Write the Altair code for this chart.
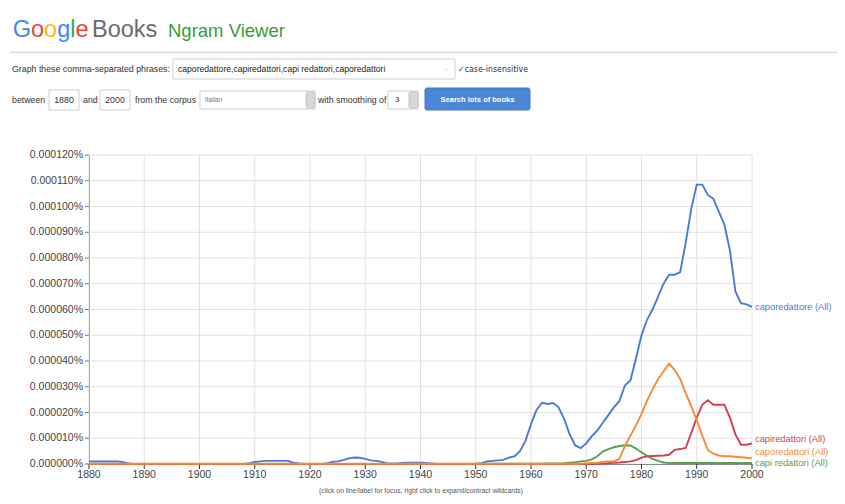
import altair as alt
import pandas as pd

# ---------------- data (values in units of 0.00001 %) ----------------
years = list(range(1880, 2001))

caporedattore = [
    0.1, 0.1, 0.1, 0.1, 0.1, 0.1, 0.08, 0.03, 0, 0,
    0, 0, 0, 0, 0, 0, 0, 0, 0, 0,
    0, 0, 0, 0, 0, 0, 0, 0, 0, 0.03,
    0.08, 0.1, 0.12, 0.12, 0.12, 0.12, 0.12, 0.05, 0.02, 0,
    0, 0, 0, 0.02, 0.08, 0.1, 0.15, 0.22, 0.25, 0.24,
    0.2, 0.14, 0.12, 0.08, 0.02, 0.02, 0.03, 0.05, 0.05, 0.05,
    0.05, 0.04, 0.02, 0, 0, 0, 0, 0, 0, 0,
    0, 0.03, 0.1, 0.12, 0.14, 0.16, 0.25, 0.3, 0.5, 0.9,
    1.55, 2.1, 2.38, 2.33, 2.37, 2.2, 1.75, 1.15, 0.72, 0.62,
    0.8, 1.08, 1.3, 1.6, 1.9, 2.2, 2.45, 3.05, 3.25, 4.1,
    5.0, 5.6, 6.0, 6.5, 7.0, 7.35, 7.35, 7.45, 8.6, 9.9,
    10.85, 10.85, 10.45, 10.3, 9.8, 9.3, 8.3, 6.7, 6.25, 6.2,
    6.1,
]

capiredattori = [0] * 90 + [
    0, 0, 0.01, 0.02, 0.03, 0.05, 0.06, 0.08, 0.1, 0.15,
    0.25, 0.3, 0.31, 0.32, 0.33, 0.36, 0.55, 0.58, 0.62, 1.2,
    1.8, 2.3, 2.48, 2.3, 2.3, 2.3, 1.8, 1.15, 0.75, 0.75,
    0.8,
]

caporedattori = [0.01] * 90 + [
    0.03, 0.04, 0.05, 0.08, 0.1, 0.1, 0.2, 0.7, 1.1, 1.5,
    1.95, 2.45, 2.9, 3.3, 3.6, 3.9, 3.65, 3.3, 2.75, 2.25,
    1.7, 1.1, 0.55, 0.4, 0.33, 0.3, 0.3, 0.28, 0.26, 0.24,
    0.22,
]

capi_redattori = [0] * 70 + [
    0.01, 0.01, 0.01, 0.01, 0.01, 0.01, 0.01, 0.01, 0.01, 0.01,
    0.01, 0.01, 0.01, 0.02, 0.02, 0.02, 0.03, 0.05, 0.07, 0.1,
    0.12, 0.18, 0.3, 0.48, 0.58, 0.65, 0.7, 0.73, 0.72, 0.6,
    0.45, 0.32, 0.2, 0.12, 0.06, 0.04, 0.04, 0.04, 0.04, 0.04,
    0.04, 0.04, 0.04, 0.04, 0.04, 0.04, 0.04, 0.04, 0.04, 0.04,
    0.04,
]

series_names = ["caporedattore (All)", "capi redattori (All)",
                "capiredattori (All)", "caporedattori (All)"]
series_values = [caporedattore, capi_redattori, capiredattori, caporedattori]
series_colors = ["#4a7bd4", "#5d9e52", "#d6404a", "#f28a3a"]
label_shift = [0, 0, -4, -6]

x_ticks = list(range(1880, 2001, 10))
x_tick_labels = [str(v) for v in x_ticks]
y_ticks = list(range(0, 13))
y_tick_labels = ["0.000000%", "0.000010%", "0.000020%", "0.000030%", "0.000040%",
                 "0.000050%", "0.000060%", "0.000070%", "0.000080%", "0.000090%",
                 "0.000100%", "0.000110%", "0.000120%"]

rows = []
for name, vals in zip(series_names, series_values):
    for yr, v in zip(years, vals):
        rows.append({"year": yr, "value": v, "series": name})
df = pd.DataFrame(rows)
xt_df = pd.DataFrame({"year": x_ticks, "label": x_tick_labels})
yt_df = pd.DataFrame({"value": y_ticks, "label": y_tick_labels})

FONT = "Liberation Sans"
W, H = 663, 309
GRID = "#e2e2e2"

x_scale = alt.Scale(domain=[1880, 2000], nice=False)
y_scale = alt.Scale(domain=[0, 12], nice=False)
x_enc = alt.X("year:Q", scale=x_scale,
              axis=alt.Axis(grid=False, labels=False, ticks=False, title=None,
                            domainColor="#333", domainWidth=1))
y_enc = alt.Y("value:Q", scale=y_scale,
              axis=alt.Axis(grid=False, labels=False, ticks=False, title=None,
                            domainColor="#777", domainWidth=1))

color_scale = alt.Scale(domain=series_names, range=series_colors)

grid_v = alt.Chart(xt_df).mark_rule(color=GRID, strokeWidth=1).encode(x=x_enc)
grid_h = alt.Chart(yt_df).mark_rule(color=GRID, strokeWidth=1).encode(y=y_enc)
ticks_x = alt.Chart(xt_df).mark_rule(color="#333", strokeWidth=1).encode(
    x=x_enc, y=alt.value(H), y2=alt.value(H + 5))
ticks_y = alt.Chart(yt_df).mark_rule(color="#777", strokeWidth=1).encode(
    y=y_enc, x=alt.value(-4), x2=alt.value(0))
labels_x = alt.Chart(xt_df).mark_text(
    align="center", baseline="top", fontSize=10.5, font=FONT, color="#444"
).encode(x=x_enc, y=alt.value(H + 6), text="label:N")
labels_y = alt.Chart(yt_df).mark_text(
    align="right", baseline="middle", fontSize=10.5, font=FONT, color="#444"
).encode(y=y_enc, x=alt.value(-6), text="label:N")

lines = alt.Chart(df).mark_line(strokeWidth=1.9, interpolate="linear").encode(
    x=x_enc, y=y_enc,
    color=alt.Color("series:N", scale=color_scale, legend=None),
    detail="series:N",
)

label_layers = []
for name, vals, shift in zip(series_names, series_values, label_shift):
    ldf = pd.DataFrame({"year": [years[-1]], "value": [vals[-1]], "series": [name]})
    label_layers.append(
        alt.Chart(ldf).mark_text(
            align="left", baseline="middle", dx=3, dy=shift, fontSize=9.3, font=FONT
        ).encode(
            x=x_enc, y=y_enc, text="series:N",
            color=alt.Color("series:N", scale=color_scale, legend=None),
        )
    )

one = alt.Data(values=[{"a": 1}])


def txt(s, x, y, size=9, color="#333", align="left", weight="normal", font=FONT,
        baseline="middle"):
    return alt.Chart(one).mark_text(
        text=s, align=align, baseline=baseline, fontSize=size, color=color,
        fontWeight=weight, font=font
    ).encode(x=alt.value(x), y=alt.value(y))


def box(x1, x2, y1, y2, fill="white", stroke="#cfcfcf", radius=0):
    return alt.Chart(one).mark_rect(
        fill=fill, stroke=stroke, strokeWidth=1, cornerRadius=radius
    ).encode(x=alt.value(x1), x2=alt.value(x2), y=alt.value(y1), y2=alt.value(y2))


deco = []
# Logo
gx = -76.3
gy = -117.7
glyphs = [("G", "#4285f4", 18.3), ("o", "#ea4335", 13.1), ("o", "#fbbc05", 13.1),
          ("g", "#4285f4", 13.1), ("l", "#34a853", 5.2), ("e", "#ea4335", 13.1)]
for ch, col, w in glyphs:
    deco.append(txt(ch, gx, gy, size=23.5, color=col, baseline="alphabetic"))
    gx += w
deco.append(txt("Books", 3, gy, size=23.5, color="#6b6b6b", baseline="alphabetic"))
deco.append(txt("Ngram Viewer", 79, gy, size=18.5, color="#3c9a3c", baseline="alphabetic"))
deco.append(alt.Chart(one).mark_rule(color="#cccccc", strokeWidth=1).encode(
    x=alt.value(-79), x2=alt.value(748), y=alt.value(-102.7)))

# Row 1
deco.append(txt("Graph these comma-separated phrases:", -77, -86.5, size=8.8))
deco.append(box(84, 366, -96, -76))
deco.append(txt("caporedattore,capiredattori,capi redattori,caporedattori", 89, -86.5,
                size=8.6, color="#222"))
deco.append(txt("-", 356, -86.5, size=8, color="#bbb"))
deco.append(txt("\u2713case-insensitive", 369, -86.5, size=8.8, font="DejaVu Sans Condensed"))

# Row 2
ry = -55
deco.append(txt("between", -77, ry, size=8.8))
deco.append(box(-40, -10, -65, -45))
deco.append(txt("1880", -25, ry, size=8.8, align="center"))
deco.append(txt("and", -6, ry, size=8.8))
deco.append(box(11, 41, -65, -45))
deco.append(txt("2000", 26, ry, size=8.8, align="center"))
deco.append(txt("from the corpus", 46, ry, size=8.8))
deco.append(box(111, 226, -64, -46))
deco.append(txt("Italian", 116, ry, size=6.5, color="#777"))
deco.append(box(217, 226, -63, -47, fill="#d8d8d8", stroke="#c4c4c4", radius=2))
deco.append(txt("with smoothing of", 229, ry, size=8.8))
deco.append(box(299, 329, -64, -46))
deco.append(txt("3", 306, ry, size=8, color="#333"))
deco.append(box(320, 329, -63, -47, fill="#d8d8d8", stroke="#c4c4c4", radius=2))
deco.append(box(336, 441, -67, -45, fill="#4d86d6", stroke="#4579c4", radius=2))
deco.append(txt("Search lots of books", 388.5, ry, size=7.5, color="white",
                align="center", weight="bold"))

# caption
deco.append(txt("(click on line/label for focus, right click to expand/contract wildcards)",
                332, 336, size=6.8, color="#555", align="center"))

chart = alt.layer(grid_v, grid_h, ticks_x, ticks_y, labels_x, labels_y,
                  lines, *label_layers, *deco).properties(
    width=W, height=H,
    padding={"left": 81, "top": 147, "right": 85, "bottom": 32},
    autosize=alt.AutoSizeParams(type="none"),
    background="white",
).configure_view(stroke=None)

chart.save("out.html", embed_options={"renderer": "svg", "actions": False})
